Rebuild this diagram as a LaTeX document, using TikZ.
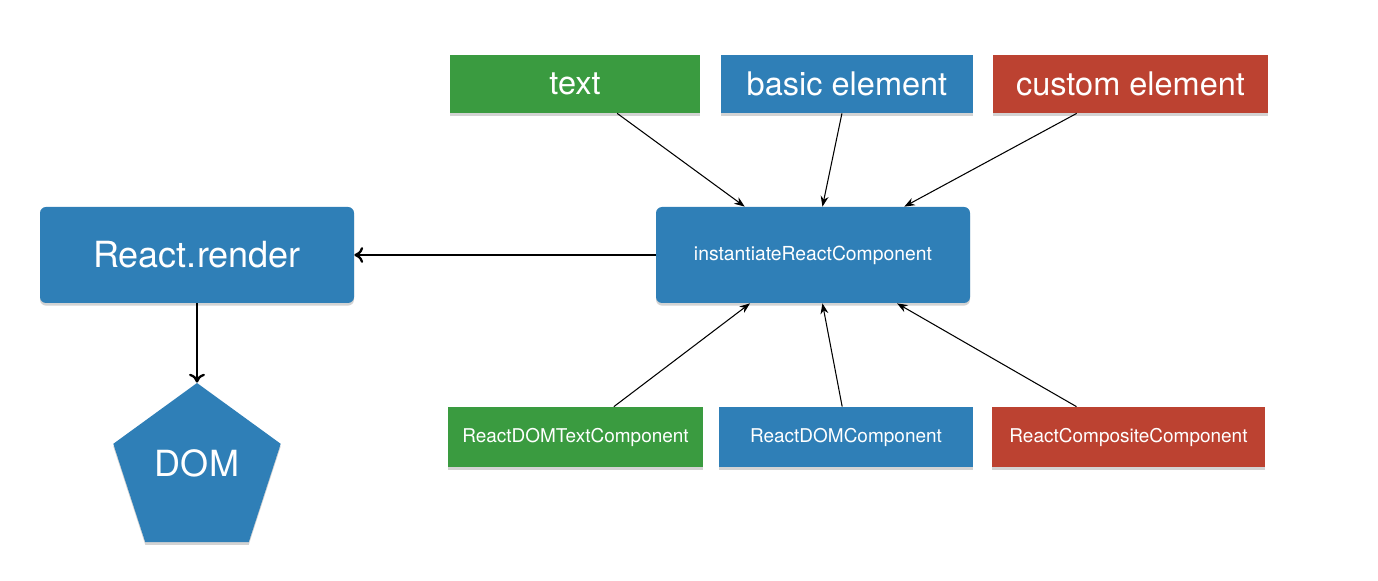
\documentclass[tikz,border=0pt]{standalone}
\usepackage{fontspec}
\setmainfont{TeX Gyre Heros}
\usetikzlibrary{shapes.geometric,arrows.meta,calc,shadows}

\definecolor{rgreen}{RGB}{58,155,64}
\definecolor{rblue}{RGB}{47,127,183}
\definecolor{rred}{RGB}{188,66,49}

\tikzset{
  box/.style={inner sep=0pt, text=white, drop shadow={opacity=0.35, shadow xshift=0pt, shadow yshift=-1.5pt}},
  topbox/.style={box, minimum width=#1, minimum height=1.16cm, font=\fontsize{18.5}{20}\selectfont},
  lowbox/.style={box, minimum width=#1, minimum height=1.2cm, font=\fontsize{10.8}{12}\selectfont},
  bigbox/.style={box, rounded corners=0.12cm, fill=rblue, minimum width=6.28cm, minimum height=1.92cm},
  thinarrow/.style={-{Stealth[length=6pt,width=4.5pt]}, line width=0.6pt},
  mainarrow/.style={-{To[length=5pt,width=9pt]}, line width=1.3pt}
}

\begin{document}
\begin{tikzpicture}
  \useasboundingbox (0,0) rectangle (27.56,11.6);

  % input kinds
  \node[topbox=5cm, fill=rgreen] (text) at (11.5,9.92) {text};
  \node[topbox=5.04cm, fill=rblue] (basic) at (16.94,9.92) {basic element};
  \node[topbox=5.5cm, fill=rred] (custom) at (22.61,9.92) {custom element};

  % main boxes
  \node[bigbox, font=\fontsize{20.5}{22}\selectfont] (render) at (3.94,6.5) {React.render};
  \node[bigbox, font=\fontsize{11}{13}\selectfont] (inst) at (16.26,6.5) {instantiateReactComponent};
  \node[box, regular polygon, regular polygon sides=5, minimum size=3.52cm, fill=rblue,
        text depth=0.32cm, font=\fontsize{20.5}{22}\selectfont] (dom) at (3.94,2.18) {DOM};

  % component classes
  \node[lowbox=5.1cm, fill=rgreen] (rdt) at (11.51,2.86) {ReactDOMTextComponent};
  \node[lowbox=5.08cm, fill=rblue] (rd) at (16.92,2.86) {ReactDOMComponent};
  \node[lowbox=5.46cm, fill=rred] (rc) at (22.57,2.86) {ReactCompositeComponent};

  % arrows
  \draw[thinarrow] ($(text.south west)!0.668!(text.south east)$) -- ($(inst.north west)!0.283!(inst.north east)$);
  \draw[thinarrow] ($(basic.south west)!0.48!(basic.south east)$) -- ($(inst.north west)!0.53!(inst.north east)$);
  \draw[thinarrow] ($(custom.south west)!0.305!(custom.south east)$) -- ($(inst.north west)!0.79!(inst.north east)$);
  \draw[thinarrow] ($(rdt.north west)!0.65!(rdt.north east)$) -- ($(inst.south west)!0.3!(inst.south east)$);
  \draw[thinarrow] ($(rd.north west)!0.485!(rd.north east)$) -- ($(inst.south west)!0.53!(inst.south east)$);
  \draw[thinarrow] ($(rc.north west)!0.31!(rc.north east)$) -- ($(inst.south west)!0.767!(inst.south east)$);
  \draw[mainarrow] (inst) -- (render);
  \draw[mainarrow] (render) -- (dom.corner 1);
\end{tikzpicture}
\end{document}
